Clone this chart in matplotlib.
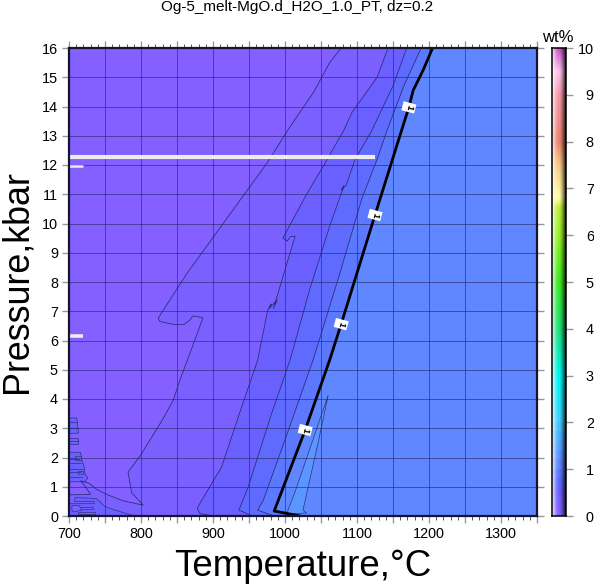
import numpy as np
import matplotlib
matplotlib.use('Agg')
import matplotlib.pyplot as plt

plt.rcParams['font.family'] = ['Liberation Sans', 'DejaVu Sans']

title = 'Og-5_melt-MgO.d_H2O_1.0_PT, dz=0.2'

# contour 0.2
c02 = [(700,.72),(730,.74),(722,1.02),(716,1.2),(728,1.12),(738,.92),(754,.72),(775,.52),(803,.37),(787,.8),(782,1.5),
       (800,2.1),(830,3.3),(845,3.97),(854,4.65),(864,5.3),(886,6.77),(878,6.82),(872,6.84),(868,6.7),(860,6.55),
       (845,6.55),(826,6.65),(824,6.77),(864,8.3),(920,10.2),(976,12.1),(1004,13.2),(1040,14.5),(1062,15.5),(1078,16)]
# contour 0.4
c04 = [(900,0),(882,.08),(878,.25),(882,.44),(912,1.68),(938,3.6),(962,5.33),(976,7.04),(981,7.25),(978,7.1),
       (989,7.38),(984,7.1),(1014,9.57),(1008,9.55),(1003,9.4),(997,9.5),(1030,11),(1058,12.17),(1082,13.2),
       (1093,13.8),(1128,15),(1143,16)]
# contour 0.6
c06 = [(955,0),(936,.2),(949,1),(980,3.4),(1007,5.33),(1035,7.8),(1062,9.9),(1082,11.3),(1078,11.15),(1085,11.3),
       (1097,12.17),(1121,13.2),(1150,14.7),(1169,16)]
# contour 0.8
c08 = [(985,0),(962,.2),(970,.55),(1000,2.6),(1039,5.33),(1075,8.2),(1107,10.87),(1128,12.2),(1142,13.2),(1165,14.7),(1189,16)]
# contour 1.0
c10 = [(1021,0),(985,.17),(1028,2.94),(1062,5.33),(1078,6.56),(1125,10.29),(1149,12.17),(1172,13.97),(1178,14.55),(1185,14.9),(1192,15.25),(1205,16)]
# island 1.2
c12 = [(1003,.12),(1015,.9),(1060,4.13),(1045,2.4),(1025,.2),(1030,.1),(1005,.08),(1003,.12)]
# stepped patches, lower left
patch_a = [(700,0),(819,0),(787,.03),(771,.15),(750,.32),(738,.6),(708,.63),(708,.49),(735,.49),(735,.42),(700,.42)]
patch_b = [(700,3.35),(711,3.35),(713,2.83),(705,2.83),(700,2.8)]
patch_c = [(700,2.66),(713,2.66),(713,2.45),(700,2.45)]
patch_d = [(700,2.18),(716,2.18),(718,1.9),(721,1.7),(722,1.45),(726,1.3),(722,1.17),(703,1.17),(700,1.17)]
holes = [[(708,.32),(734,.32),(734,.24),(708,.24)],
         [(713,.15),(736,.15),(736,.08),(713,.08)],
         [(704,.36),(714,.36),(718,.2),(706,.14),(704,.2)],
         [(708,2.05),(716,2.05),(716,1.92),(708,1.92)],
         [(712,1.55),(720,1.55),(720,1.42),(712,1.42)]]
stripe_P = [3.2,3.0,2.55,1.95,1.8,1.62,1.5,1.35]
stripe_T = [711,712,713,714,717,719,716,718]

# gaps
gap_T = [(700,1125),(700,720),(700,720)]
gap_P = [12.27,11.98,6.17]
gap_lw = [3,1.8,2.6]

contour_labels_T = [1172,1125,1078,1028]
contour_labels_P = [13.97,10.29,6.56,2.94]

band_colors = ['#8360ff','#7a60ff','#6a60ff','#5f6bff','#5b78ff','#5f87ff','#5a96ff']

cbar_vals = [0,.2,.4,.6,.8,1,1.2,1.4,1.6,1.8,2,3,4,5,6,6.6,6.8,7.5,8,9,9.5,10]
cbar_cols = [(131,96,255),(122,96,255),(106,96,255),(95,107,255),(91,120,255),(95,135,255),(90,150,255),(85,165,255),
             (75,180,255),(70,195,255),(60,210,255),(0,245,240),(30,225,120),(60,235,30),(150,240,40),(190,240,60),
             (255,255,160),(250,200,130),(235,130,110),(245,150,170),(255,195,235),(200,80,200)]

fig = plt.figure(figsize=(5.94,5.87),dpi=100)
W,H = 594,587
ax = fig.add_axes([69/W,1-516/H,468/W,468/H])
ax.set_xlim(700,1350); ax.set_ylim(0,16)
ax.set_facecolor(band_colors[0])

def closed(c):
    return c+[(1350,16),(1350,0)]
a02 = closed(c02)+[(700,0)]
for poly,col in zip([a02,closed(c04),closed(c06),closed(c08),closed(c10)],band_colors[1:6]):
    x,y = zip(*poly)
    ax.fill(x,y,color=col,lw=0,zorder=1)
for p in [patch_a,patch_b,patch_c,patch_d]:
    x,y = zip(*p)
    ax.fill(x,y,facecolor=band_colors[2],edgecolor='#30307a',lw=.5,zorder=1.5)
for p in holes:
    x,y = zip(*p)
    ax.fill(x,y,facecolor=band_colors[1],edgecolor='#30307a',lw=.5,zorder=1.6)
for p,t in zip(stripe_P,stripe_T):
    ax.plot([700,t],[p,p],color='#30307a',lw=.5,zorder=1.7)
x,y = zip(*c12)
ax.fill(x,y,facecolor=band_colors[6],edgecolor='#30307a',lw=.5,zorder=1.5)

for c in [c02,c04,c06,c08]:
    x,y = zip(*c)
    ax.plot(x,y,color='#2a2a70',lw=.55,zorder=2)
x,y = zip(*c10)
ax.plot(x,y,color='k',lw=2,zorder=3,solid_capstyle='butt')

ax.set_xticks(np.arange(700,1351,50))
ax.set_xticks(np.arange(700,1351,10),minor=True)
ax.set_yticks(np.arange(0,17,1))
ax.set_xticklabels([str(v) if v%100==0 else '' for v in np.arange(700,1351,50)])
ax.grid(True,which='major',color='#252560',lw=.7,alpha=.6,zorder=2)
ax.set_axisbelow(False)
ax.tick_params(which='major',direction='out',length=5,width=1,color='#999999',labelsize=10.4,pad=3,
               top=True,right=True,left=True,bottom=True)
ax.tick_params(which='minor',direction='out',length=3,width=.7,color='#555555',top=True,bottom=True)
for s in ax.spines.values():
    s.set_linewidth(1.6); s.set_color('#15152f'); s.set_zorder(6)

for (t,p,l) in zip(gap_T,gap_P,gap_lw):
    ax.plot(t,[p,p],color='#ececec',lw=l,zorder=4,solid_capstyle='butt')

for t,p in zip(contour_labels_T,contour_labels_P):
    ax.text(t,p,'1',rotation=-105,fontsize=6.5,fontweight='bold',ha='center',va='center',rotation_mode='anchor',zorder=5,
            bbox=dict(facecolor='white',edgecolor='none',pad=1.5))

fig.text(297/W,1-7.5/H,title,ha='center',va='center',fontsize=11)
fig.text(303/W,1-566/H,'Temperature,°C',ha='center',va='center',fontsize=26.5)
fig.text(27/W,1-282/H,'Pressure,kbar',ha='center',va='baseline',rotation=90,rotation_mode='anchor',fontsize=25.8)

# colour bar
cax = fig.add_axes([552/W,1-516/H,14/W,468/H])
vals = np.linspace(0,10,468)
vals_q = np.where(vals<2,np.floor(vals/.2)*.2,vals)
rgb = np.array([np.interp(vals_q,cbar_vals,[c[i] for c in cbar_cols]) for i in range(3)]).T/255
t = np.linspace(1,-1,14)
shade = np.sign(t)*np.abs(t)**1.6*.85
img = np.zeros((468,14,3))
for j,s in enumerate(shade):
    img[:,j,:] = rgb+(1-rgb)*s if s>0 else rgb*(1+s)
cax.imshow(img,origin='lower',aspect='auto',extent=[0,1,0,10],interpolation='nearest')
cax.set_xticks([])
cax.yaxis.tick_right()
cax.set_yticks(np.arange(0,11))
cax.tick_params(axis='y',direction='out',length=5,width=1,color='#999999',labelsize=10.4,pad=15)
for lbl in cax.get_yticklabels():
    lbl.set_ha('right')
for s in cax.spines.values():
    s.set_linewidth(1.1)
fig.text(558/W,1-38/H,'wt%',ha='center',va='center',fontsize=12)

fig.savefig('out.png',dpi=100)
